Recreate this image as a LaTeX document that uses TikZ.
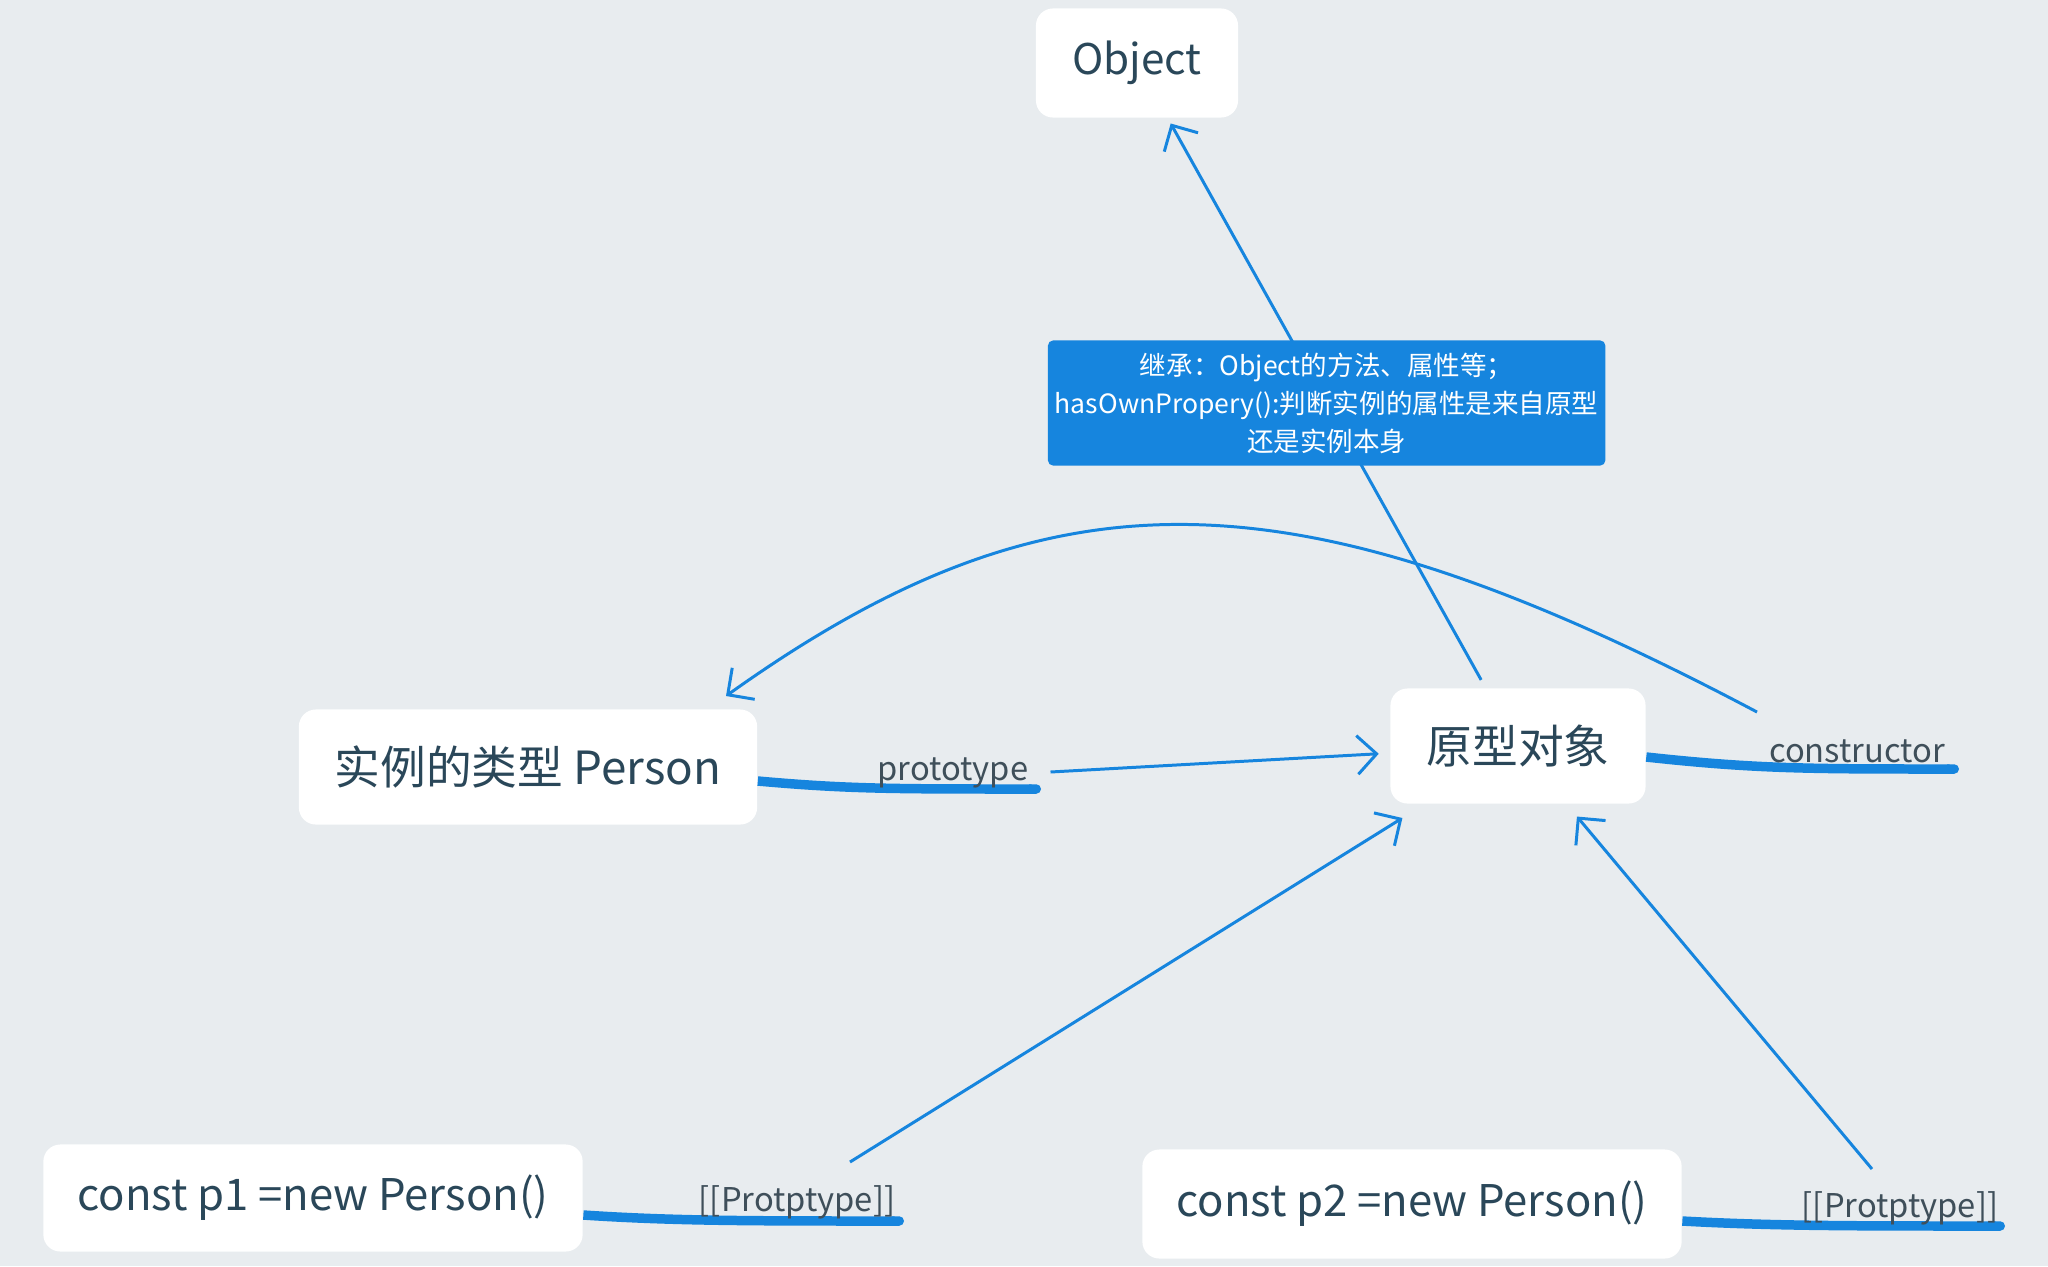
\documentclass[tikz,border=0pt]{standalone}
\usepackage{fontspec}
\setmainfont{Noto Sans CJK SC}
\usetikzlibrary{arrows.meta}

\definecolor{bgcol}{HTML}{E8ECEF}
\definecolor{linkblue}{HTML}{1685DE}
\definecolor{boxtext}{HTML}{2A4759}
\definecolor{lbltext}{HTML}{3F4F5A}

\begin{document}
\begin{tikzpicture}[x=0.01cm, y=-0.01cm,
    box/.style={fill=white, rounded corners=0.17cm, text=boxtext, inner sep=0pt, font=\fontsize{13}{16}\selectfont},
    note/.style={fill=linkblue, rounded corners=0.05cm, text=white, align=center, inner sep=0pt,
      minimum width=5.57cm, minimum height=1.25cm, font=\fontsize{7.55}{10.8}\selectfont},
    lbl/.style={text=lbltext, inner sep=1pt, font=\fontsize{9.3}{12}\selectfont},
    branch/.style={draw=linkblue, line width=2.7pt, -{Round Cap}},
    arr/.style={draw=linkblue, line width=0.85pt, -{Straight Barb[length=5.5pt,width=11pt]}}]

    \fill[bgcol] (0,0) rectangle (2048,1266);
    \useasboundingbox (0,0) rectangle (2048,1266);

    % boxes
    \node[box, minimum width=2.02cm, minimum height=1.09cm, font=\fontsize{12}{15}\selectfont] (obj) at (1137,63) {Object};
    \node[box, minimum width=4.58cm, minimum height=1.15cm] (pers) at (528,767) {实例的类型 Person};
    \node[box, minimum width=2.55cm, minimum height=1.15cm] (proto) at (1518,746) {原型对象};
    \node[box, minimum width=5.39cm, minimum height=1.07cm, font=\fontsize{12.4}{15}\selectfont] (p1) at (313,1198) {const p1 =new Person()};
    \node[box, minimum width=5.39cm, minimum height=1.09cm, font=\fontsize{12.4}{15}\selectfont] (p2) at (1412,1204) {const p2 =new Person()};

    \coordinate (protoEnd) at (1041,789);
    \coordinate (ctorEnd) at (1959,769);
    \coordinate (p1End) at (904,1221);
    \coordinate (p2End) at (2005,1226);
    \coordinate (ctorFrom) at (1757,712);
    \coordinate (persTo) at (726,696);
    \coordinate (p1From) at (850,1162);
    \coordinate (p2From) at (1872,1169);

    % branches
    \draw[branch] ([yshift=-0.14cm]pers.east) .. controls +(90,8) and +(-150,0) .. (protoEnd);
    \draw[branch] ([yshift=-0.11cm]proto.east) .. controls +(110,12) and +(-150,0) .. (ctorEnd);
    \draw[branch] ([yshift=-0.17cm]p1.east) .. controls +(90,6) and +(-150,0) .. (p1End);
    \draw[branch] ([yshift=-0.17cm]p2.east) .. controls +(90,5) and +(-150,0) .. (p2End);

    \node[lbl] (lproto) at (953,773) {prototype};
    \node[lbl] (lctor) at (1857,751) {constructor};
    \node[lbl] (lp1) at (797,1202) {[[Protptype]]};
    \node[lbl] (lp2) at (1900,1208) {[[Protptype]]};

    % links
    \draw[arr, shorten <=0.09cm, shorten >=0.06cm] (proto) -- (obj)
      node[note, midway] {继承：Object的方法、属性等；\\hasOwnPropery():判断实例的属性是来自原型\\还是实例本身};
    \draw[arr, shorten <=0.18cm, shorten >=0.11cm] (lproto.east) -- (proto);
    \draw[arr] (ctorFrom) .. controls (1290,465) and (1050,465) .. (persTo);
    \draw[arr, shorten >=0.26cm] (p1From) -- (proto);
    \draw[arr, shorten >=0.16cm] (p2From) -- (proto);
\end{tikzpicture}
\end{document}
